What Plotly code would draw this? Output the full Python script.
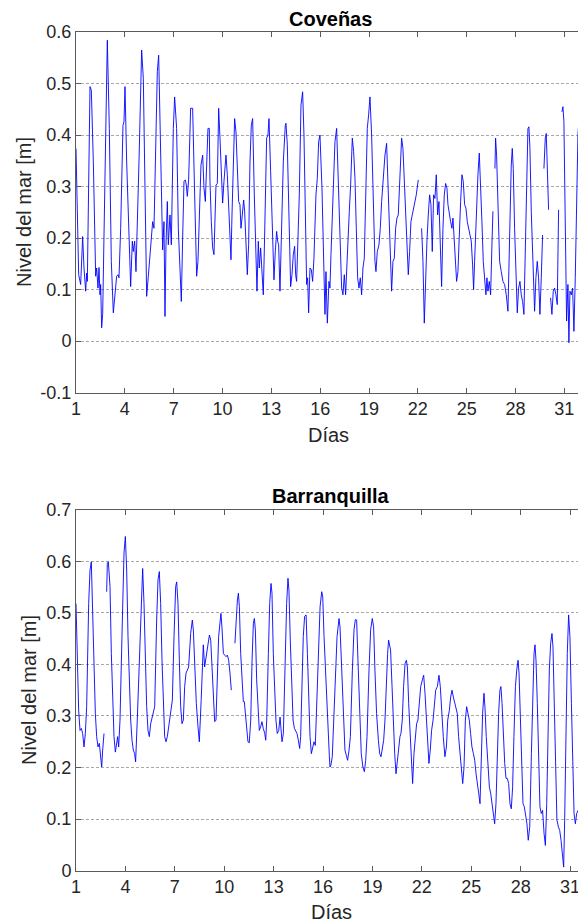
import plotly.graph_objects as go

# ---------------- data ----------------
cov_days = [
    1.000, 1.164, 1.286, 1.327, 1.409, 1.491, 1.594, 1.655, 1.696, 1.860,
    1.942, 2.065, 2.208, 2.269, 2.351, 2.413, 2.474, 2.515, 2.576, 2.638,
    2.760, 2.924, 3.047, 3.170, 3.293, 3.375, 3.498, 3.580, 3.641, 3.744,
    3.887, 3.948, 4.010, 4.112, 4.255, 4.358, 4.460, 4.521, 4.604, 4.685,
    4.870, 5.033, 5.136, 5.218, 5.341, 5.443, 5.627, 5.709, 5.791, 5.893,
    5.996, 6.078, 6.160, 6.262, 6.323, 6.405, 6.467, 6.528, 6.610, 6.671,
    6.774, 6.856, 6.979, 7.060, 7.183, 7.286, 7.388, 7.470, 7.552, 7.634,
    7.716, 7.777, 7.838, 7.920, 8.043, 8.166, 8.289, 8.412, 8.494, 8.617,
    8.678, 8.781, 8.863, 8.945, 9.027, 9.108, 9.190, 9.231, 9.313, 9.395,
    9.477, 9.538, 9.600, 9.682, 9.764, 9.845, 9.927, 10.009, 10.091, 10.214,
    10.296, 10.378, 10.460, 10.521, 10.583, 10.664, 10.746, 10.828, 10.910, 10.992,
    11.074, 11.135, 11.217, 11.299, 11.361, 11.443, 11.524, 11.606, 11.688, 11.770,
    11.852, 11.954, 12.057, 12.118, 12.200, 12.261, 12.343, 12.425, 12.507, 12.589,
    12.712, 12.794, 12.855, 12.958, 13.060, 13.162, 13.244, 13.326, 13.388, 13.449,
    13.531, 13.613, 13.736, 13.859, 13.900, 13.981, 14.084, 14.186, 14.268, 14.350,
    14.432, 14.493, 14.555, 14.637, 14.719, 14.821, 14.923, 15.005, 15.087, 15.169,
    15.230, 15.292, 15.374, 15.456, 15.537, 15.619, 15.742, 15.824, 15.906, 15.988,
    16.111, 16.234, 16.295, 16.356, 16.440, 16.540, 16.602, 16.664, 16.786, 16.909,
    17.012, 17.114, 17.216, 17.319, 17.401, 17.483, 17.564, 17.646, 17.728, 17.790,
    17.872, 17.974, 18.056, 18.138, 18.220, 18.302, 18.384, 18.465, 18.547, 18.629,
    18.711, 18.793, 18.895, 18.977, 19.059, 19.161, 19.264, 19.366, 19.428, 19.510,
    19.612, 19.694, 19.776, 19.878, 19.981, 20.083, 20.185, 20.288, 20.390, 20.472,
    20.554, 20.636, 20.717, 20.799, 20.902, 21.004, 21.086, 21.209, 21.311, 21.414,
    21.495, 21.577, 21.659, 21.741, 21.823, 21.905, 22.028, 22.130, 22.233, 22.315,
    22.397, 22.479, 22.560, 22.642, 22.724, 22.806, 22.888, 22.970, 23.052, 23.134,
    23.216, 23.298, 23.379, 23.461, 23.543, 23.625, 23.707, 23.789, 23.850, 23.932,
    24.014, 24.096, 24.157, 24.219, 24.300, 24.382, 24.464, 24.546, 24.628, 24.710,
    24.792, 24.874, 24.956, 25.038, 25.119, 25.201, 25.283, 25.365, 25.427, 25.488,
    25.590, 25.693, 25.775, 25.857, 25.938, 26.020, 26.102, 26.184, 26.246, 26.307,
    26.389, 26.471, 26.553, 26.614, 26.680, 26.737, 26.778, 26.839, 26.921, 27.024,
    27.126, 27.228, 27.331, 27.433, 27.536, 27.597, 27.679, 27.740, 27.802, 27.863,
    27.945, 28.027, 28.109, 28.191, 28.273, 28.354, 28.436, 28.518, 28.600, 28.682,
    28.764, 28.825, 28.887, 28.969, 29.071, 29.174, 29.255, 29.337, 29.419, 29.501,
    29.583, 29.665, 29.706, 29.747, 29.829, 29.890, 29.952, 30.033, 30.095, 30.156,
    30.238, 30.320, 30.402, 30.484, 30.566, 30.648, 30.750, 30.853, 30.914, 30.975,
    31.057, 31.139, 31.221, 31.282, 31.344, 31.426, 31.508, 31.590, 31.672, 31.754,
    31.836, 31.920,
]
cov_level = [
    0.374, 0.129, 0.110, 0.145, 0.203, 0.142, 0.097, 0.132, 0.116, 0.494,
    0.487, 0.348, 0.126, 0.142, 0.103, 0.143, 0.090, 0.110, 0.026, 0.052,
    0.284, 0.584, 0.413, 0.155, 0.055, 0.090, 0.126, 0.129, 0.123, 0.219,
    0.419, 0.426, 0.494, 0.348, 0.187, 0.106, 0.194, 0.174, 0.194, 0.135,
    0.348, 0.565, 0.510, 0.348, 0.087, 0.126, 0.203, 0.232, 0.219, 0.348,
    0.523, 0.555, 0.413, 0.206, 0.177, 0.232, 0.048, 0.187, 0.271, 0.187,
    0.245, 0.187, 0.413, 0.474, 0.413, 0.219, 0.116, 0.077, 0.200, 0.310,
    0.313, 0.303, 0.281, 0.313, 0.452, 0.452, 0.284, 0.126, 0.155, 0.303,
    0.342, 0.361, 0.297, 0.271, 0.329, 0.413, 0.413, 0.310, 0.232, 0.181,
    0.168, 0.226, 0.303, 0.306, 0.452, 0.394, 0.316, 0.268, 0.310, 0.361,
    0.323, 0.265, 0.206, 0.158, 0.245, 0.361, 0.432, 0.406, 0.316, 0.271,
    0.265, 0.219, 0.245, 0.274, 0.252, 0.194, 0.129, 0.187, 0.348, 0.419,
    0.432, 0.284, 0.155, 0.097, 0.194, 0.142, 0.181, 0.142, 0.090, 0.206,
    0.394, 0.400, 0.432, 0.329, 0.206, 0.119, 0.174, 0.213, 0.194, 0.187,
    0.097, 0.187, 0.348, 0.419, 0.423, 0.381, 0.219, 0.106, 0.129, 0.168,
    0.184, 0.129, 0.116, 0.187, 0.284, 0.458, 0.484, 0.400, 0.219, 0.110,
    0.123, 0.055, 0.142, 0.139, 0.116, 0.161, 0.284, 0.316, 0.387, 0.400,
    0.297, 0.090, 0.052, 0.135, 0.035, 0.116, 0.103, 0.168, 0.284, 0.387,
    0.413, 0.297, 0.168, 0.103, 0.090, 0.129, 0.090, 0.161, 0.219, 0.252,
    0.303, 0.394, 0.368, 0.316, 0.219, 0.123, 0.103, 0.123, 0.090, 0.142,
    0.161, 0.252, 0.413, 0.439, 0.474, 0.400, 0.245, 0.155, 0.135, 0.174,
    0.187, 0.219, 0.271, 0.316, 0.361, 0.384, 0.284, 0.181, 0.097, 0.155,
    0.161, 0.219, 0.239, 0.245, 0.316, 0.394, 0.374, 0.284, 0.187, 0.129,
    0.174, 0.232, 0.245, 0.258, 0.265, 0.284, 0.313, None, 0.219, 0.155,
    0.035, 0.135, 0.194, 0.245, 0.284, 0.265, 0.174, 0.284, 0.277, 0.323,
    0.245, 0.271, 0.187, 0.106, 0.219, 0.284, 0.306, 0.297, 0.265, 0.245,
    0.232, 0.219, 0.239, 0.206, 0.155, 0.116, 0.135, 0.219, 0.271, 0.323,
    0.310, 0.265, 0.258, 0.232, 0.219, 0.206, 0.194, 0.148, 0.100, 0.155,
    0.252, 0.323, 0.365, 0.310, 0.232, 0.155, 0.116, 0.090, 0.123, 0.097,
    0.116, 0.090, 0.187, 0.252, None, 0.335, 0.394, 0.361, 0.252, 0.155,
    0.135, 0.116, 0.110, 0.090, 0.058, 0.142, 0.284, 0.342, 0.374, 0.335,
    0.219, 0.123, 0.055, 0.103, 0.116, 0.090, 0.077, 0.052, 0.155, 0.284,
    0.413, 0.416, 0.374, 0.252, 0.155, 0.058, 0.123, 0.155, 0.123, 0.052,
    0.123, 0.206, None, 0.335, 0.394, 0.403, 0.348, 0.255, None, 0.084,
    0.052, 0.097, 0.103, 0.090, 0.071, 0.255, None, 0.445, 0.455, 0.426,
    0.252, 0.039, 0.110, -0.003, 0.097, 0.090, 0.103, 0.019, 0.123, 0.284,
    0.400, 0.440,
]

bar_days = [
    1.000, 1.081, 1.162, 1.243, 1.324, 1.405, 1.486, 1.567, 1.648, 1.770,
    1.850, 1.930, 2.012, 2.093, 2.174, 2.255, 2.336, 2.417, 2.498, 2.559,
    2.620, 2.700, 2.780, 2.862, 2.903, 2.964, 3.065, 3.146, 3.227, 3.308,
    3.389, 3.470, 3.530, 3.591, 3.672, 3.814, 3.915, 3.996, 4.077, 4.158,
    4.239, 4.320, 4.400, 4.480, 4.560, 4.620, 4.720, 4.886, 4.987, 5.048,
    5.129, 5.210, 5.291, 5.372, 5.453, 5.534, 5.615, 5.696, 5.777, 5.898,
    5.979, 6.060, 6.141, 6.222, 6.303, 6.384, 6.465, 6.546, 6.627, 6.708,
    6.789, 6.850, 6.950, 7.052, 7.113, 7.193, 7.274, 7.355, 7.436, 7.517,
    7.598, 7.679, 7.760, 7.840, 7.962, 8.064, 8.124, 8.205, 8.306, 8.408,
    8.489, 8.600, 8.660, 8.730, 8.810, 8.870, 8.930, 9.010, 9.100, 9.180,
    9.260, 9.340, 9.420, 9.500, 9.580, 9.660, 9.740, 9.800, 9.860, 9.950,
    10.030, 10.110, 10.190, 10.270, 10.350, 10.430, 10.540, 10.650, 10.710, 10.800,
    10.860, 10.920, 11.000, 11.080, 11.160, 11.220, 11.280, 11.360, 11.440, 11.520,
    11.610, 11.690, 11.770, 11.830, 11.890, 11.970, 12.050, 12.130, 12.210, 12.290,
    12.370, 12.460, 12.520, 12.580, 12.680, 12.760, 12.840, 12.900, 12.980, 13.060,
    13.140, 13.220, 13.310, 13.390, 13.450, 13.510, 13.590, 13.710, 13.790, 13.870,
    13.930, 14.010, 14.090, 14.180, 14.260, 14.340, 14.420, 14.500, 14.580, 14.640,
    14.720, 14.800, 14.880, 14.970, 15.050, 15.130, 15.210, 15.290, 15.370, 15.450,
    15.530, 15.610, 15.710, 15.820, 15.920, 15.980, 16.060, 16.140, 16.220, 16.300,
    16.380, 16.420, 16.480, 16.560, 16.620, 16.730, 16.850, 16.970, 17.030, 17.130,
    17.230, 17.330, 17.410, 17.490, 17.580, 17.660, 17.780, 17.880, 17.960, 18.040,
    18.120, 18.220, 18.320, 18.420, 18.510, 18.590, 18.670, 18.790, 18.890, 18.990,
    19.070, 19.150, 19.250, 19.360, 19.440, 19.520, 19.600, 19.680, 19.760, 19.840,
    19.920, 19.980, 20.040, 20.100, 20.190, 20.270, 20.350, 20.430, 20.510, 20.590,
    20.670, 20.730, 20.810, 20.890, 20.980, 21.060, 21.120, 21.200, 21.280, 21.360,
    21.440, 21.520, 21.600, 21.680, 21.760, 21.850, 21.930, 22.030, 22.110, 22.190,
    22.270, 22.350, 22.430, 22.510, 22.590, 22.680, 22.760, 22.840, 22.940, 23.040,
    23.120, 23.200, 23.300, 23.400, 23.490, 23.570, 23.670, 23.750, 23.830, 23.910,
    23.990, 24.070, 24.150, 24.230, 24.320, 24.400, 24.480, 24.560, 24.640, 24.720,
    24.800, 24.880, 24.960, 25.040, 25.130, 25.210, 25.290, 25.370, 25.450, 25.530,
    25.610, 25.690, 25.770, 25.830, 25.910, 26.020, 26.100, 26.180, 26.260, 26.340,
    26.420, 26.500, 26.580, 26.660, 26.740, 26.800, 26.870, 26.950, 27.030, 27.110,
    27.190, 27.270, 27.350, 27.430, 27.510, 27.590, 27.680, 27.760, 27.840, 27.900,
    27.980, 28.060, 28.140, 28.220, 28.300, 28.380, 28.460, 28.550, 28.650, 28.730,
    28.810, 28.870, 28.930, 29.010, 29.090, 29.170, 29.250, 29.330, 29.420, 29.500,
    29.580, 29.660, 29.740, 29.820, 29.900, 29.960, 30.040, 30.120, 30.200, 30.290,
    30.370, 30.450, 30.530, 30.610, 30.670, 30.750, 30.830, 30.910, 30.990, 31.080,
    31.160, 31.240, 31.320, 31.400, 31.480,
]
bar_level = [
    0.518, 0.389, 0.311, 0.272, 0.276, 0.266, 0.240, 0.266, 0.318, 0.518,
    0.583, 0.599, 0.486, 0.389, 0.305, 0.260, 0.240, 0.247, 0.227, 0.201,
    0.234, 0.266, None, 0.541, 0.596, 0.599, 0.551, 0.421, 0.324, 0.260,
    0.230, 0.253, 0.260, 0.240, 0.292, 0.486, 0.616, 0.648, 0.583, 0.454,
    0.357, 0.292, 0.253, 0.234, 0.227, 0.211, 0.292, 0.454, 0.564, 0.586,
    0.518, 0.389, 0.318, 0.272, 0.260, 0.285, 0.298, 0.308, 0.318, 0.486,
    0.564, 0.580, 0.518, 0.408, 0.318, 0.260, 0.250, 0.260, 0.279, 0.298,
    0.308, 0.331, 0.454, 0.551, 0.560, 0.518, 0.408, 0.318, 0.285, 0.292,
    0.357, 0.383, 0.389, 0.395, 0.460, 0.486, 0.467, 0.389, 0.324, 0.279,
    0.250, 0.330, 0.400, 0.438, 0.395, 0.408, 0.421, 0.447, 0.457, 0.447,
    0.389, 0.324, 0.289, 0.292, 0.389, 0.454, 0.480, 0.499, 0.473, 0.421,
    0.418, 0.415, 0.418, 0.408, 0.383, 0.350, None, 0.441, 0.486, 0.525,
    0.538, 0.512, 0.421, 0.357, 0.328, 0.328, 0.305, 0.266, 0.250, 0.248,
    0.292, 0.408, 0.480, 0.489, 0.467, 0.370, 0.305, 0.272, 0.279, 0.289,
    0.276, 0.266, 0.253, 0.292, 0.421, 0.518, 0.557, 0.538, 0.421, 0.337,
    0.292, 0.266, 0.272, 0.298, 0.279, 0.250, 0.266, 0.421, 0.518, 0.567,
    0.544, 0.447, 0.357, 0.292, 0.276, 0.272, 0.266, 0.253, 0.237, 0.260,
    0.357, 0.454, 0.493, 0.496, 0.421, 0.324, 0.260, 0.227, 0.240, 0.250,
    0.243, 0.318, 0.421, 0.512, 0.541, 0.531, 0.454, 0.389, 0.324, 0.260,
    0.224, 0.201, 0.205, 0.221, 0.260, 0.357, 0.454, 0.489, 0.473, 0.389,
    0.292, 0.234, 0.224, 0.214, 0.234, 0.260, 0.389, 0.467, 0.487, 0.486,
    0.408, 0.292, 0.227, 0.201, 0.192, 0.214, 0.260, 0.389, 0.467, 0.489,
    0.473, 0.389, 0.305, 0.253, 0.227, 0.221, 0.234, 0.253, 0.292, 0.370,
    0.421, 0.447, 0.438, 0.428, 0.357, 0.279, 0.227, 0.188, 0.214, 0.240,
    0.260, 0.266, 0.292, 0.357, 0.402, 0.408, 0.395, 0.324, 0.272, 0.227,
    0.169, 0.227, 0.260, 0.285, 0.292, 0.331, 0.357, 0.370, 0.379, 0.344,
    0.292, 0.240, 0.208, 0.234, 0.272, 0.292, 0.318, 0.350, 0.357, 0.379,
    0.357, 0.305, 0.260, 0.221, 0.240, 0.292, 0.311, 0.337, 0.350, 0.337,
    0.328, 0.318, 0.305, 0.260, 0.221, 0.188, 0.169, 0.201, 0.292, 0.318,
    0.305, 0.292, 0.266, 0.240, 0.227, 0.214, 0.188, 0.162, 0.150, 0.130,
    0.227, 0.305, 0.344, 0.318, 0.260, 0.188, 0.162, 0.150, 0.130, 0.111,
    0.091, 0.130, 0.227, 0.305, 0.350, 0.357, 0.324, 0.260, 0.208, 0.179,
    0.179, 0.169, 0.130, 0.120, 0.162, 0.260, 0.357, 0.389, 0.408, 0.383,
    0.292, 0.195, 0.130, 0.124, 0.111, 0.091, 0.059, 0.085, 0.227, 0.357,
    0.421, 0.438, 0.408, 0.324, 0.195, 0.124, 0.111, 0.117, 0.072, 0.049,
    0.130, 0.260, 0.389, 0.441, 0.460, 0.434, 0.324, 0.195, 0.098, 0.085,
    0.078, 0.059, 0.033, 0.007, 0.098, 0.292, 0.421, 0.496, 0.454, 0.324,
    0.195, 0.111, 0.091, 0.111, 0.117,
]

x_tick_vals = [1, 4, 7, 10, 13, 16, 19, 22, 25, 28, 31]
x_tick_text = ["1", "4", "7", "10", "13", "16", "19", "22", "25", "28", "31"]
cov_y_vals = [-0.1, 0, 0.1, 0.2, 0.3, 0.4, 0.5, 0.6]
cov_y_text = ["-0.1", "0", "0.1", "0.2", "0.3", "0.4", "0.5", "0.6"]
bar_y_vals = [0, 0.1, 0.2, 0.3, 0.4, 0.5, 0.6, 0.7]
bar_y_text = ["0", "0.1", "0.2", "0.3", "0.4", "0.5", "0.6", "0.7"]

titles = ["Coveñas", "Barranquilla"]
x_label = "Días"
y_label = "Nivel del mar [m]"

# ---------------- layout helpers ----------------
W, H = 578, 924
FONT = "Liberation Sans, Arial, Helvetica, sans-serif"
AX = "#5a5a5a"
TXT = "#262626"


def fx(px):
    return px / W


def fy(py):
    return 1 - py / H


def xaxis(domain, rng, anchor):
    return dict(
        domain=domain, range=rng, anchor=anchor,
        tickvals=x_tick_vals, ticktext=x_tick_text,
        showline=True, linecolor=AX, linewidth=1, mirror="ticks",
        ticks="inside", ticklen=5, tickcolor=AX, tickwidth=1,
        tickfont=dict(family=FONT, size=18, color=TXT),
        ticklabeloverflow="allow",
        showgrid=False, zeroline=False, automargin=False, fixedrange=True,
    )


def yaxis(domain, rng, anchor, vals, text):
    return dict(
        domain=domain, range=rng, anchor=anchor,
        tickvals=vals, ticktext=text,
        showline=True, linecolor=AX, linewidth=1, mirror=False,
        ticks="inside", ticklen=5, tickcolor=AX, tickwidth=1,
        tickfont=dict(family=FONT, size=18, color=TXT),
        showgrid=True, gridcolor="#a8a8a8", gridwidth=1, griddash="3px,2px",
        zeroline=False, automargin=False, fixedrange=True,
    )


fig = go.Figure()
fig.add_trace(go.Scatter(
    x=cov_days, y=cov_level, mode="lines", xaxis="x", yaxis="y",
    line=dict(color="#0000ff", width=0.9), connectgaps=False,
    showlegend=False, hoverinfo="skip",
))
fig.add_trace(go.Scatter(
    x=bar_days, y=bar_level, mode="lines", xaxis="x2", yaxis="y2",
    line=dict(color="#0000ff", width=0.9), connectgaps=False,
    showlegend=False, hoverinfo="skip",
))

x_dom = [fx(76), 1.0]
fig.update_layout(
    width=W, height=H,
    margin=dict(l=0, r=0, t=0, b=0),
    paper_bgcolor="white", plot_bgcolor="white",
    xaxis=xaxis(x_dom, [1, 31.84], "y"),
    yaxis=yaxis([fy(392.7), fy(32)], [-0.1, 0.6], "x", cov_y_vals, cov_y_text),
    xaxis2=xaxis(x_dom, [1, 31.48], "y2"),
    yaxis2=yaxis([fy(870.7), fy(509.7)], [0, 0.7], "x2", bar_y_vals, bar_y_text),
)

ann = []
# subplot titles
ann.append(dict(text="<b>" + titles[0] + "</b>", x=fx(330), y=fy(19), xref="paper", yref="paper",
                xanchor="center", yanchor="middle", showarrow=False,
                font=dict(family=FONT, size=20, color="black")))
ann.append(dict(text="<b>" + titles[1] + "</b>", x=fx(331), y=fy(496), xref="paper", yref="paper",
                xanchor="center", yanchor="middle", showarrow=False,
                font=dict(family=FONT, size=20, color="black")))
# x labels
for cx, cy in [(329, 435), (331, 912)]:
    ann.append(dict(text=x_label, x=fx(cx), y=fy(cy), xref="paper", yref="paper",
                    xanchor="center", yanchor="middle", showarrow=False,
                    font=dict(family=FONT, size=20, color=TXT)))
# y labels
for cx, cy in [(24, 212), (29, 690)]:
    ann.append(dict(text=y_label, x=fx(cx), y=fy(cy), xref="paper", yref="paper",
                    xanchor="center", yanchor="middle", showarrow=False, textangle=-90,
                    font=dict(family=FONT, size=20, color=TXT)))
fig.update_layout(annotations=ann)

fig.write_html(
    "out.html",
    config={"displayModeBar": False},
    post_script="document.body.style.margin='0';document.body.style.padding='0';"
                "document.body.style.overflow='hidden';"
                "document.documentElement.style.overflow='hidden';",
)
